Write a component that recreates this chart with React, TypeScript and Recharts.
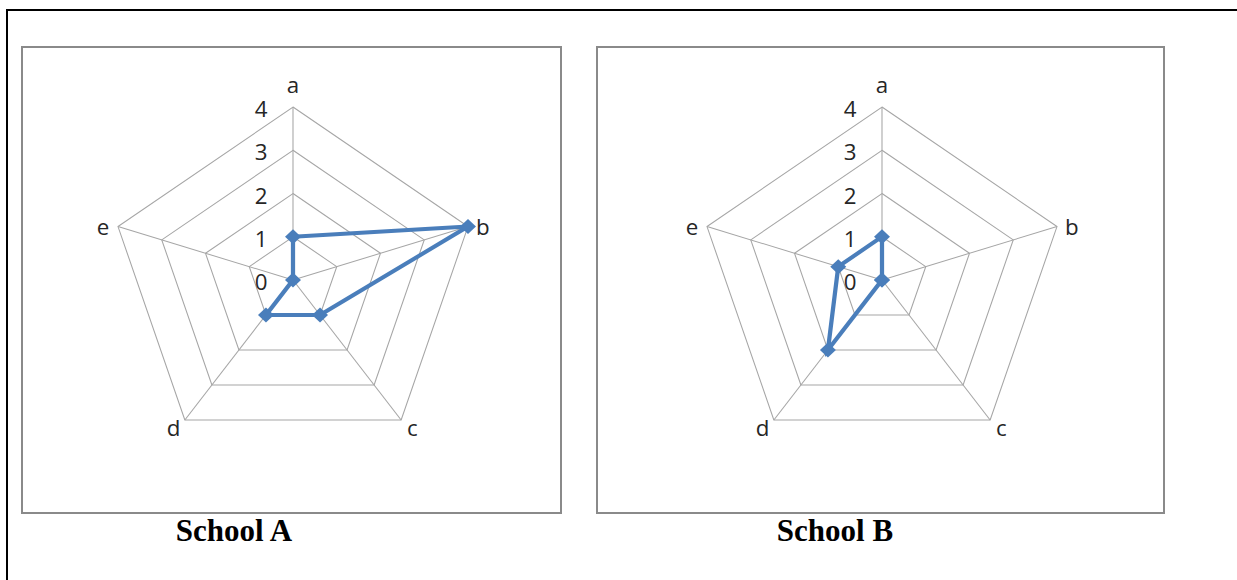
import { RadarChart, Radar, PolarGrid, PolarAngleAxis, PolarRadiusAxis } from 'recharts';

const axes = ['a', 'b', 'c', 'd', 'e'];
const schoolA = [1, 4, 1, 1, 0];
const schoolB = [1, 0, 0, 2, 1];
const radiusTicks = [0, 1, 2, 3, 4];

const BLUE = '#4A7EBB';
const GRID = '#a6a6a6';
const LABEL_FONT = '"Open Sans", Lato, sans-serif';
const LABEL_SIZE = 21;

// chart drawn at the y radius, then stretched sideways like the original
const R = 173;
const CY = 232;
const SX = 184 / 173;

function makeAngleTick(cx: number) {
  return (props: any) => {
    const { x, y, payload } = props;
    const dx = x - cx;
    const dy = y - CY;
    const len = Math.sqrt(dx * dx + dy * dy) || 1;
    const ux = dx / len;
    const uy = dy / len;
    const vx = cx + ux * R;
    const vy = CY + uy * R;
    let tx = vx;
    let ty = vy;
    if (Math.abs(ux) < 0.1) {
      ty = vy - 22;
    } else if (uy < 0) {
      tx = vx + Math.sign(ux) * 14;
    } else {
      tx = vx + Math.sign(ux) * 10.5;
      ty = vy + 8;
    }
    return (
      <text x={tx} y={ty} textAnchor="middle" dominantBaseline="central" style={{ fill: '#262626', fontSize: LABEL_SIZE, fontFamily: LABEL_FONT }}>
        {payload.value}
      </text>
    );
  };
}

function RadiusTick(props: any) {
  const { x, y, payload } = props;
  return (
    <text x={x - 24} y={y + 2} textAnchor="end" dominantBaseline="central" style={{ fill: '#262626', fontSize: LABEL_SIZE, fontFamily: LABEL_FONT }}>
      {payload.value}
    </text>
  );
}

function Diamond(props: any) {
  const { cx, cy, index } = props;
  const s = 7.5;
  return (
    <polygon
      key={`d-${index}`}
      points={`${cx},${cy - s} ${cx + s},${cy} ${cx},${cy + s} ${cx - s},${cy}`}
      fill={BLUE}
    />
  );
}

function Panel({ values, left, width, cx }: { values: number[]; left: number; width: number; cx: number }) {
  const data = axes.map((axis, i) => ({ axis, value: values[i] }));
  return (
    <div
      style={{
        position: 'absolute',
        left,
        top: 46,
        width,
        height: 464,
        border: '2px solid #8a8a8a',
      }}
    >
      <div style={{ position: 'absolute', left: 0, top: 0, transform: `scaleX(${SX})`, transformOrigin: `${cx}px 0px` }}>
        <RadarChart width={width} height={464} data={data} cx={cx} cy={CY} outerRadius={R} margin={{ top: 0, right: 0, bottom: 0, left: 0 }}>
          <PolarGrid gridType="polygon" stroke={GRID} strokeWidth={1} />
          <PolarAngleAxis dataKey="axis" tickLine={false} axisLine={false} tick={makeAngleTick(cx)} />
          <PolarRadiusAxis
            domain={[0, 4]}
            ticks={radiusTicks as any}
            tickCount={5}
            angle={90}
            axisLine={false}
            tickLine={false}
            tick={RadiusTick}
          />
          <Radar
            dataKey="value"
            stroke={BLUE}
            strokeWidth={4}
            fill="none"
            fillOpacity={0}
            dot={Diamond}
            isAnimationActive={false}
          />
        </RadarChart>
      </div>
    </div>
  );
}

const titleStyle: React.CSSProperties = {
  position: 'absolute',
  top: 513,
  fontFamily: '"Liberation Serif", "Times New Roman", serif',
  fontWeight: 'bold',
  fontSize: 31,
  color: '#000',
  transform: 'translateX(-50%)',
  whiteSpace: 'nowrap',
};

export default function App() {
  return (
    <div style={{ position: 'fixed', left: 0, top: 0, width: 1237, height: 580, overflow: 'hidden', background: '#fff' }}>
      <div style={{ position: 'absolute', left: 6, top: 9, width: 1400, height: 800, border: '2px solid #000' }} />
      <Panel values={schoolA} left={21} width={537} cx={270} />
      <Panel values={schoolB} left={596} width={565} cx={284} />
      <div style={{ ...titleStyle, left: 234 }}>School A</div>
      <div style={{ ...titleStyle, left: 835 }}>School B</div>
    </div>
  );
}
